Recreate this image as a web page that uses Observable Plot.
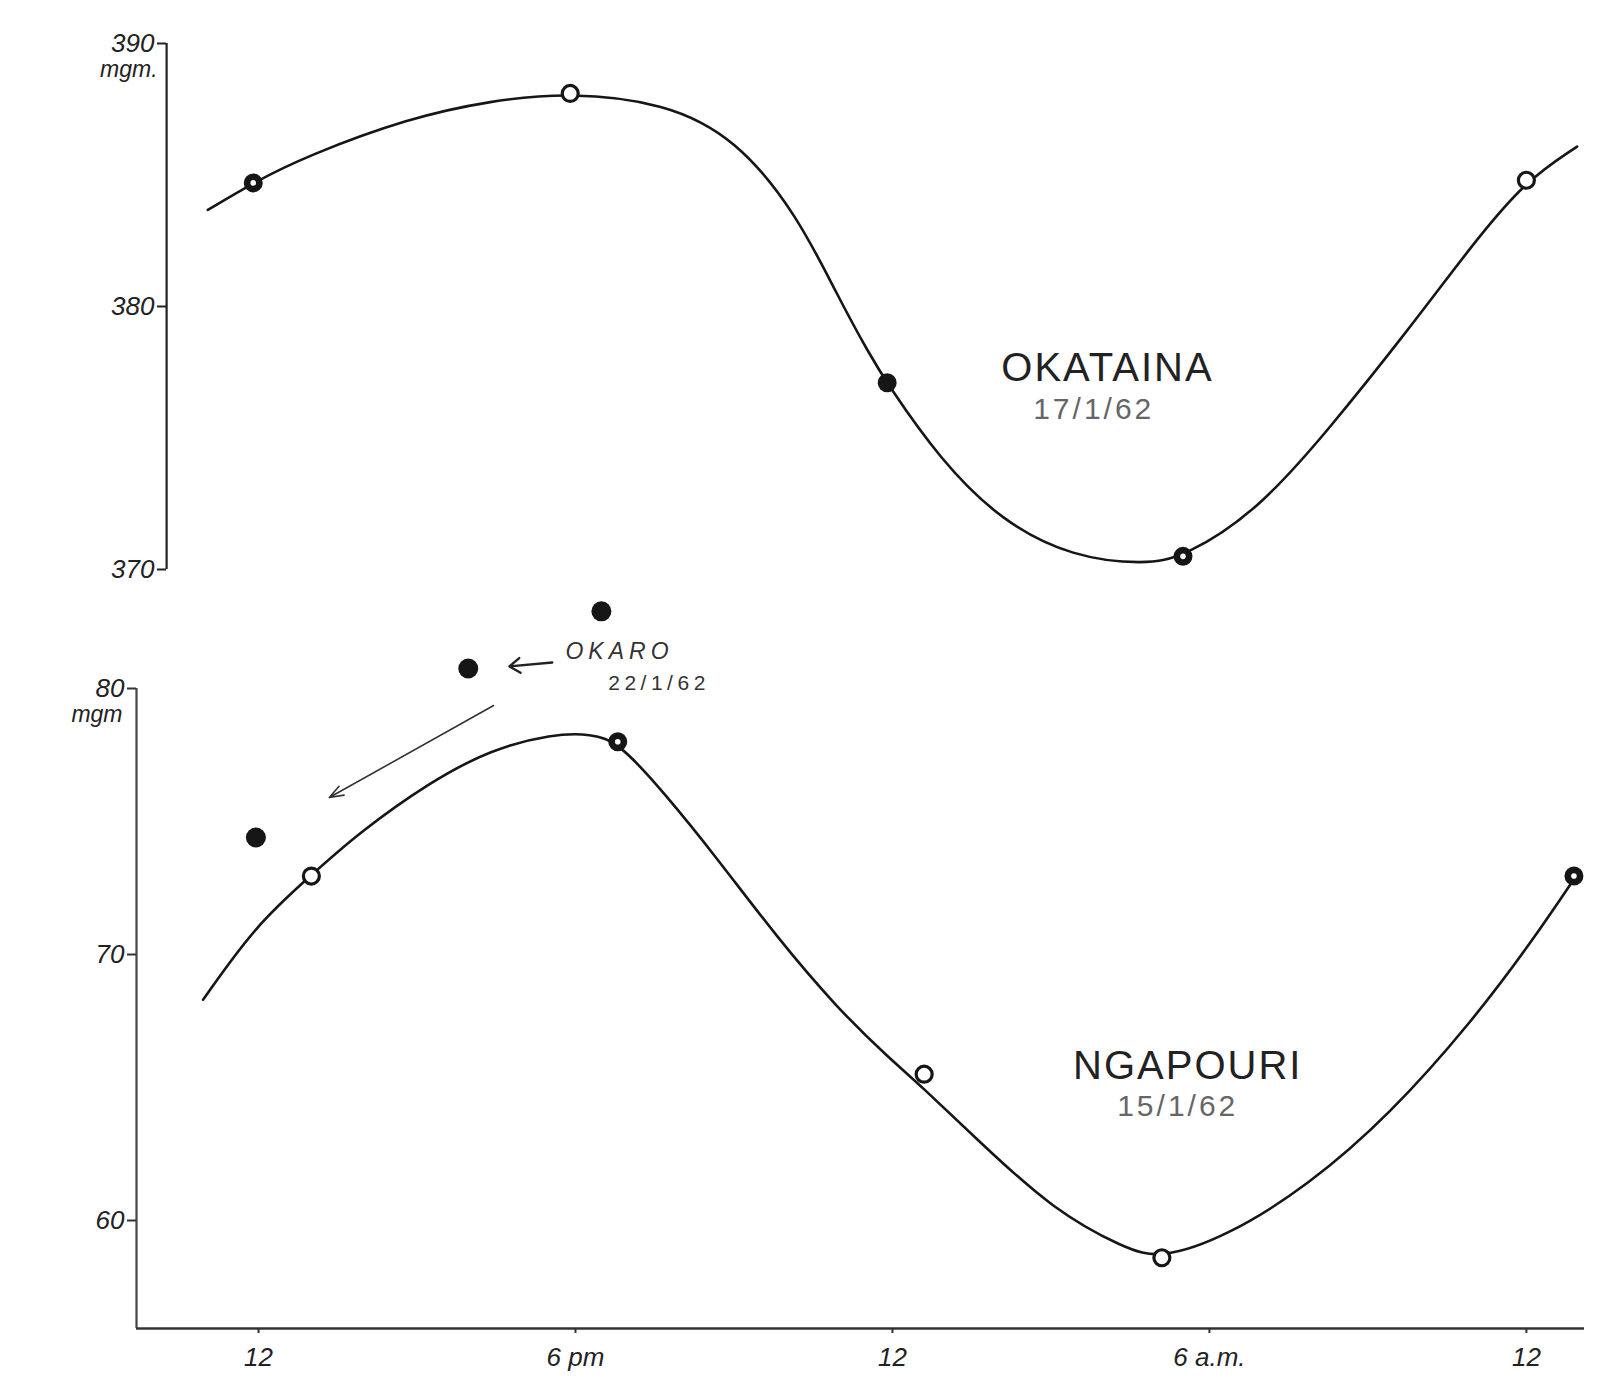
<!DOCTYPE html>
<html>
<head>
<meta charset="utf-8">
<script src="https://cdn.jsdelivr.net/npm/d3@7"></script>
<script src="https://cdn.jsdelivr.net/npm/@observablehq/plot@0.6"></script>
<style>
  html, body { margin: 0; padding: 0; background: #fff; }
  #wrap { position: relative; width: 1602px; height: 1380px; background: #fff; }
  #top { position: absolute; left: 0; top: 0; }
  #bottom { position: absolute; left: 0; top: 580px; }
</style>
</head>
<body>
<div id="wrap"><div id="top"></div><div id="bottom"></div></div>
<script>
// ---------- data (x = hours after noon) ----------
const hourTicks = [0, 6, 12, 18, 24];
const hourTickLabels = ["12", "6 pm", "12", "6 a.m.", "12"];

// OKATAINA 17/1/62 (mgm)
const okatainaTicks = [370, 380, 390];
const okatainaHours = [-0.1, 5.9, 11.9, 17.5, 24.0];
const okatainaValues = [384.7, 388.1, 377.1, 370.5, 384.8];
const okatainaMarkers = ["ringed", "open", "solid", "ringed", "open"];
const okatainaCurveHours = [-0.96, -0.09, 0.92, 2.85, 4.40, 5.87, 7.69, 9.04, 10.20, 10.97, 11.55, 11.90, 12.91, 14.07, 15.42, 16.78, 17.51, 18.90, 20.26, 21.80, 22.96, 23.97, 24.96];
const okatainaCurveValues = [383.67, 384.72, 385.73, 387.17, 387.83, 388.14, 387.75, 386.39, 383.48, 380.37, 378.23, 377.07, 374.15, 371.82, 370.46, 370.19, 370.46, 372.21, 375.32, 379.20, 382.31, 384.76, 386.08];

// NGAPOURI 15/1/62 (mgm)
const ngapouriTicks = [60, 70, 80];
const ngapouriHours = [1.0, 6.8, 12.6, 17.1, 24.9];
const ngapouriValues = [72.95, 78.0, 65.5, 58.6, 72.95];
const ngapouriMarkers = ["open", "ringed", "open", "open", "ringed"];
const ngapouriCurveHours = [-1.05, -0.05, 0.98, 1.89, 3.24, 4.40, 5.56, 6.3, 6.82, 7.69, 8.65, 9.81, 10.97, 11.94, 12.52, 13.68, 15.04, 16.39, 17.07, 18.32, 19.87, 21.42, 22.96, 24.12, 24.94];
const ngapouriCurveValues = [68.30, 71.11, 72.95, 74.56, 76.48, 77.71, 78.29, 78.3, 77.98, 76.05, 73.7, 70.65, 67.95, 66.1, 65.1, 62.9, 60.4, 58.95, 58.55, 59.39, 61.31, 63.99, 67.45, 70.53, 72.95];

// OKARO 22/1/62 (mgm, plotted on the NGAPOURI scale)
const okaroHours = [-0.05, 3.97, 6.49];
const okaroValues = [74.4, 80.75, 82.9];

// arrows (data units)
const arrowFromHours = [4.45, 5.56];
const arrowFromValues = [79.36, 80.98];
const arrowToHours = [1.34, 4.75];
const arrowToValues = [75.9, 80.83];

// axis extents (data units)
const topAxisHour = -1.74;
const bottomAxisHour = -2.31;
const xAxisHours = [-2.31, 25.1];
const bottomAxisValue = 55.94;

// ---------- helpers ----------
const pts = (hs, vs, ms) => hs.map((h, i) => ({h, v: vs[i], m: ms ? ms[i] : "solid"}));
const X = {domain: [-2.31, 25.1], range: [136, 1584]};
const FONT = "'Liberation Sans', Arial, sans-serif";
const ink = "#161616";

function dotMarks(data) {
  return [
    Plot.dot(data.filter(d => d.m === "open"), {x: "h", y: "v", r: 8, fill: "white", stroke: ink, strokeWidth: 3.2}),
    Plot.dot(data.filter(d => d.m === "ringed"), {x: "h", y: "v", r: 8, fill: ink, stroke: ink, strokeWidth: 3}),
    Plot.dot(data.filter(d => d.m === "ringed"), {x: "h", y: "v", r: 2.8, fill: "white"}),
    Plot.dot(data.filter(d => d.m === "solid"), {x: "h", y: "v", r: 9.5, fill: ink})
  ];
}

// ---------- top panel: OKATAINA ----------
const topPlot = Plot.plot({
  width: 1602, height: 600,
  marginLeft: 166, marginTop: 0, marginRight: 0, marginBottom: 0,
  x: {...X, axis: null},
  y: {domain: [370, 390], range: [569, 43]},
  style: {background: "transparent", fontFamily: FONT, color: "#222"},
  marks: [
    Plot.ruleX([topAxisHour], {y1: 370, y2: 390, stroke: "#222", strokeWidth: 2.2}),
    Plot.axisY(okatainaTicks, {anchor: "left", tickSize: 9, tickPadding: 3, fontSize: 26, fontStyle: "italic", label: null, stroke: "#222", strokeWidth: 2}),
    Plot.text([okatainaTicks[2]], {x: () => topAxisHour, y: d => d, text: () => "mgm.", dx: -9, dy: 26, textAnchor: "end", fontSize: 23, fontStyle: "italic", fill: "#222"}),
    Plot.line(pts(okatainaCurveHours, okatainaCurveValues), {x: "h", y: "v", curve: "basis", stroke: ink, strokeWidth: 2.6}),
    ...dotMarks(pts(okatainaHours, okatainaValues, okatainaMarkers)),
    Plot.text(["OKATAINA"], {x: () => 16.07, y: () => 377.64, text: d => d, fontSize: 40, fill: "#222", textAnchor: "middle", lineAnchor: "middle", className: "series-name"}),
    Plot.text(["17/1/62"], {x: () => 15.81, y: () => 376.1, text: d => d, fontSize: 30, fill: "#666", textAnchor: "middle", lineAnchor: "middle", className: "series-date"})
  ]
});
document.getElementById("top").append(topPlot);

// ---------- bottom panel: NGAPOURI + OKARO ----------
const arrows = arrowFromHours.map((h, i) => ({x1: h, y1: arrowFromValues[i], x2: arrowToHours[i], y2: arrowToValues[i]}));
const bottomPlot = Plot.plot({
  width: 1602, height: 800,
  marginLeft: 136, marginTop: 0, marginRight: 0, marginBottom: 52,
  x: X,
  y: {domain: [55.94, 80], range: [748, 108]},
  style: {background: "transparent", fontFamily: FONT, color: "#222"},
  marks: [
    Plot.ruleX([bottomAxisHour], {y1: bottomAxisValue, y2: 80, stroke: "#444", strokeWidth: 2.2}),
    Plot.ruleY([bottomAxisValue], {x1: xAxisHours[0], x2: xAxisHours[1], stroke: "#333", strokeWidth: 2.4}),
    Plot.axisY(ngapouriTicks, {anchor: "left", tickSize: 9, tickPadding: 3, fontSize: 26, fontStyle: "italic", label: null, stroke: "#333", strokeWidth: 2}),
    Plot.text([ngapouriTicks[2]], {x: () => bottomAxisHour, y: d => d, text: () => "mgm", dx: -14, dy: 26, textAnchor: "end", fontSize: 23, fontStyle: "italic", fill: "#222"}),
    Plot.axisX(hourTicks, {anchor: "bottom", tickSize: 5, tickPadding: 14, fontSize: 26, fontStyle: "italic", label: null, stroke: "#333", strokeWidth: 2, tickFormat: d => hourTickLabels[hourTicks.indexOf(d)]}),
    Plot.line(pts(ngapouriCurveHours, ngapouriCurveValues), {x: "h", y: "v", curve: "basis", stroke: ink, strokeWidth: 2.6}),
    ...dotMarks(pts(ngapouriHours, ngapouriValues, ngapouriMarkers)),
    Plot.dot(pts(okaroHours, okaroValues), {x: "h", y: "v", r: 10, fill: ink}),
    Plot.arrow(arrows.slice(0, 1), {x1: "x1", y1: "y1", x2: "x2", y2: "y2", stroke: "#333", strokeWidth: 1.6, headLength: 14, headAngle: 40}),
    Plot.arrow(arrows.slice(1), {x1: "x1", y1: "y1", x2: "x2", y2: "y2", stroke: "#222", strokeWidth: 2.4, headLength: 8, headAngle: 70}),
    Plot.text(["OKARO"], {x: () => 5.81, y: () => 81.39, text: d => d, fontSize: 23, fontStyle: "italic", fill: "#333", textAnchor: "start", lineAnchor: "middle", className: "okaro-name"}),
    Plot.text(["22/1/62"], {x: () => 6.62, y: () => 80.2, text: d => d, fontSize: 21, fill: "#333", textAnchor: "start", lineAnchor: "middle", className: "okaro-date"}),
    Plot.text(["NGAPOURI"], {x: () => 17.59, y: () => 65.8, text: d => d, fontSize: 40, fill: "#222", textAnchor: "middle", lineAnchor: "middle", className: "series-name"}),
    Plot.text(["15/1/62"], {x: () => 17.40, y: () => 64.3, text: d => d, fontSize: 30, fill: "#666", textAnchor: "middle", lineAnchor: "middle", className: "series-date"})
  ]
});
document.getElementById("bottom").append(bottomPlot);

// letter spacing for the hand-lettered labels
d3.selectAll(".series-name text").style("letter-spacing", "2px");
d3.selectAll(".series-date text").style("letter-spacing", "3px");
d3.selectAll(".okaro-name text").style("letter-spacing", "5px");
d3.selectAll(".okaro-date text").style("letter-spacing", "4.5px");
</script>
</body>
</html>
